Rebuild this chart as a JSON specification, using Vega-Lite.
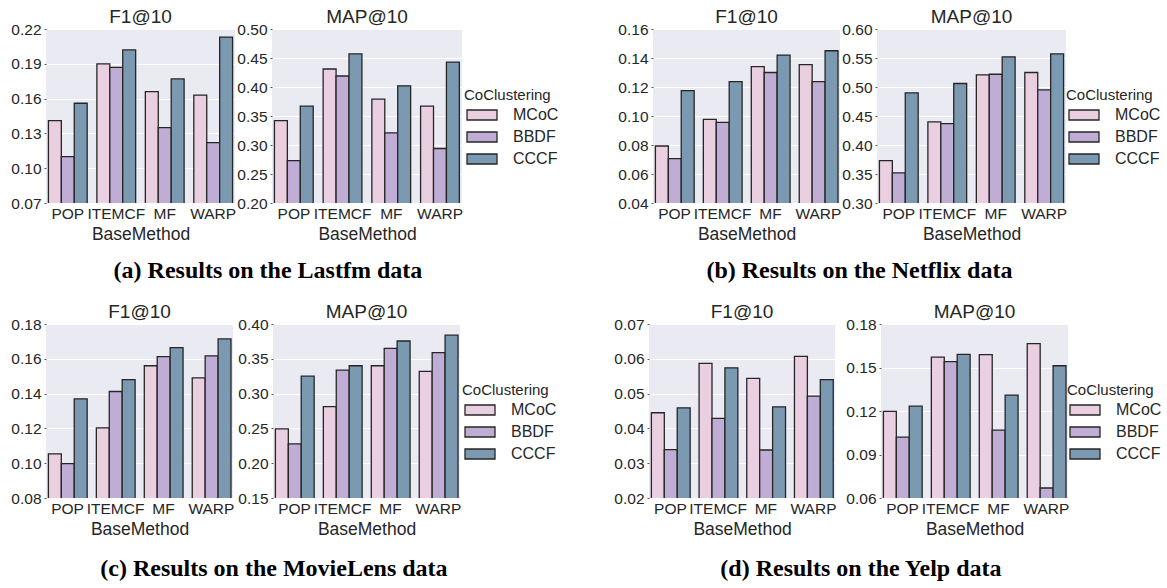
{
"$schema": "https://vega.github.io/schema/vega-lite/v6.json",
"padding": {"left": 10, "top": 8, "right": 0, "bottom": 0},
"background": "white",
"datasets": {"rows": [
{"d":"Lastfm","m":"F1@10","b":"POP","c":"MCoC","v":0.141},
{"d":"Lastfm","m":"F1@10","b":"POP","c":"BBDF","v":0.110},
{"d":"Lastfm","m":"F1@10","b":"POP","c":"CCCF","v":0.156},
{"d":"Lastfm","m":"F1@10","b":"ITEMCF","c":"MCoC","v":0.190},
{"d":"Lastfm","m":"F1@10","b":"ITEMCF","c":"BBDF","v":0.187},
{"d":"Lastfm","m":"F1@10","b":"ITEMCF","c":"CCCF","v":0.202},
{"d":"Lastfm","m":"F1@10","b":"MF","c":"MCoC","v":0.166},
{"d":"Lastfm","m":"F1@10","b":"MF","c":"BBDF","v":0.135},
{"d":"Lastfm","m":"F1@10","b":"MF","c":"CCCF","v":0.177},
{"d":"Lastfm","m":"F1@10","b":"WARP","c":"MCoC","v":0.163},
{"d":"Lastfm","m":"F1@10","b":"WARP","c":"BBDF","v":0.122},
{"d":"Lastfm","m":"F1@10","b":"WARP","c":"CCCF","v":0.213},
{"d":"Lastfm","m":"MAP@10","b":"POP","c":"MCoC","v":0.342},
{"d":"Lastfm","m":"MAP@10","b":"POP","c":"BBDF","v":0.273},
{"d":"Lastfm","m":"MAP@10","b":"POP","c":"CCCF","v":0.367},
{"d":"Lastfm","m":"MAP@10","b":"ITEMCF","c":"MCoC","v":0.431},
{"d":"Lastfm","m":"MAP@10","b":"ITEMCF","c":"BBDF","v":0.419},
{"d":"Lastfm","m":"MAP@10","b":"ITEMCF","c":"CCCF","v":0.457},
{"d":"Lastfm","m":"MAP@10","b":"MF","c":"MCoC","v":0.379},
{"d":"Lastfm","m":"MAP@10","b":"MF","c":"BBDF","v":0.321},
{"d":"Lastfm","m":"MAP@10","b":"MF","c":"CCCF","v":0.402},
{"d":"Lastfm","m":"MAP@10","b":"WARP","c":"MCoC","v":0.367},
{"d":"Lastfm","m":"MAP@10","b":"WARP","c":"BBDF","v":0.294},
{"d":"Lastfm","m":"MAP@10","b":"WARP","c":"CCCF","v":0.443},
{"d":"Netflix","m":"F1@10","b":"POP","c":"MCoC","v":0.0793},
{"d":"Netflix","m":"F1@10","b":"POP","c":"BBDF","v":0.0706},
{"d":"Netflix","m":"F1@10","b":"POP","c":"CCCF","v":0.1175},
{"d":"Netflix","m":"F1@10","b":"ITEMCF","c":"MCoC","v":0.0977},
{"d":"Netflix","m":"F1@10","b":"ITEMCF","c":"BBDF","v":0.0956},
{"d":"Netflix","m":"F1@10","b":"ITEMCF","c":"CCCF","v":0.1237},
{"d":"Netflix","m":"F1@10","b":"MF","c":"MCoC","v":0.134},
{"d":"Netflix","m":"F1@10","b":"MF","c":"BBDF","v":0.130},
{"d":"Netflix","m":"F1@10","b":"MF","c":"CCCF","v":0.142},
{"d":"Netflix","m":"F1@10","b":"WARP","c":"MCoC","v":0.1354},
{"d":"Netflix","m":"F1@10","b":"WARP","c":"BBDF","v":0.1237},
{"d":"Netflix","m":"F1@10","b":"WARP","c":"CCCF","v":0.145},
{"d":"Netflix","m":"MAP@10","b":"POP","c":"MCoC","v":0.373},
{"d":"Netflix","m":"MAP@10","b":"POP","c":"BBDF","v":0.352},
{"d":"Netflix","m":"MAP@10","b":"POP","c":"CCCF","v":0.490},
{"d":"Netflix","m":"MAP@10","b":"ITEMCF","c":"MCoC","v":0.440},
{"d":"Netflix","m":"MAP@10","b":"ITEMCF","c":"BBDF","v":0.437},
{"d":"Netflix","m":"MAP@10","b":"ITEMCF","c":"CCCF","v":0.506},
{"d":"Netflix","m":"MAP@10","b":"MF","c":"MCoC","v":0.521},
{"d":"Netflix","m":"MAP@10","b":"MF","c":"BBDF","v":0.522},
{"d":"Netflix","m":"MAP@10","b":"MF","c":"CCCF","v":0.552},
{"d":"Netflix","m":"MAP@10","b":"WARP","c":"MCoC","v":0.525},
{"d":"Netflix","m":"MAP@10","b":"WARP","c":"BBDF","v":0.495},
{"d":"Netflix","m":"MAP@10","b":"WARP","c":"CCCF","v":0.557},
{"d":"MovieLens","m":"F1@10","b":"POP","c":"MCoC","v":0.1054},
{"d":"MovieLens","m":"F1@10","b":"POP","c":"BBDF","v":0.0997},
{"d":"MovieLens","m":"F1@10","b":"POP","c":"CCCF","v":0.137},
{"d":"MovieLens","m":"F1@10","b":"ITEMCF","c":"MCoC","v":0.1203},
{"d":"MovieLens","m":"F1@10","b":"ITEMCF","c":"BBDF","v":0.1412},
{"d":"MovieLens","m":"F1@10","b":"ITEMCF","c":"CCCF","v":0.148},
{"d":"MovieLens","m":"F1@10","b":"MF","c":"MCoC","v":0.156},
{"d":"MovieLens","m":"F1@10","b":"MF","c":"BBDF","v":0.1612},
{"d":"MovieLens","m":"F1@10","b":"MF","c":"CCCF","v":0.1664},
{"d":"MovieLens","m":"F1@10","b":"WARP","c":"MCoC","v":0.149},
{"d":"MovieLens","m":"F1@10","b":"WARP","c":"BBDF","v":0.1617},
{"d":"MovieLens","m":"F1@10","b":"WARP","c":"CCCF","v":0.1714},
{"d":"MovieLens","m":"MAP@10","b":"POP","c":"MCoC","v":0.2494},
{"d":"MovieLens","m":"MAP@10","b":"POP","c":"BBDF","v":0.2279},
{"d":"MovieLens","m":"MAP@10","b":"POP","c":"CCCF","v":0.325},
{"d":"MovieLens","m":"MAP@10","b":"ITEMCF","c":"MCoC","v":0.2814},
{"d":"MovieLens","m":"MAP@10","b":"ITEMCF","c":"BBDF","v":0.3336},
{"d":"MovieLens","m":"MAP@10","b":"ITEMCF","c":"CCCF","v":0.340},
{"d":"MovieLens","m":"MAP@10","b":"MF","c":"MCoC","v":0.340},
{"d":"MovieLens","m":"MAP@10","b":"MF","c":"BBDF","v":0.365},
{"d":"MovieLens","m":"MAP@10","b":"MF","c":"CCCF","v":0.3756},
{"d":"MovieLens","m":"MAP@10","b":"WARP","c":"MCoC","v":0.332},
{"d":"MovieLens","m":"MAP@10","b":"WARP","c":"BBDF","v":0.3589},
{"d":"MovieLens","m":"MAP@10","b":"WARP","c":"CCCF","v":0.384},
{"d":"Yelp","m":"F1@10","b":"POP","c":"MCoC","v":0.0445},
{"d":"Yelp","m":"F1@10","b":"POP","c":"BBDF","v":0.0339},
{"d":"Yelp","m":"F1@10","b":"POP","c":"CCCF","v":0.0459},
{"d":"Yelp","m":"F1@10","b":"ITEMCF","c":"MCoC","v":0.0587},
{"d":"Yelp","m":"F1@10","b":"ITEMCF","c":"BBDF","v":0.0429},
{"d":"Yelp","m":"F1@10","b":"ITEMCF","c":"CCCF","v":0.0574},
{"d":"Yelp","m":"F1@10","b":"MF","c":"MCoC","v":0.0544},
{"d":"Yelp","m":"F1@10","b":"MF","c":"BBDF","v":0.0338},
{"d":"Yelp","m":"F1@10","b":"MF","c":"CCCF","v":0.0462},
{"d":"Yelp","m":"F1@10","b":"WARP","c":"MCoC","v":0.0607},
{"d":"Yelp","m":"F1@10","b":"WARP","c":"BBDF","v":0.0493},
{"d":"Yelp","m":"F1@10","b":"WARP","c":"CCCF","v":0.054},
{"d":"Yelp","m":"MAP@10","b":"POP","c":"MCoC","v":0.1197},
{"d":"Yelp","m":"MAP@10","b":"POP","c":"BBDF","v":0.102},
{"d":"Yelp","m":"MAP@10","b":"POP","c":"CCCF","v":0.1233},
{"d":"Yelp","m":"MAP@10","b":"ITEMCF","c":"MCoC","v":0.1571},
{"d":"Yelp","m":"MAP@10","b":"ITEMCF","c":"BBDF","v":0.1541},
{"d":"Yelp","m":"MAP@10","b":"ITEMCF","c":"CCCF","v":0.159},
{"d":"Yelp","m":"MAP@10","b":"MF","c":"MCoC","v":0.1589},
{"d":"Yelp","m":"MAP@10","b":"MF","c":"BBDF","v":0.1068},
{"d":"Yelp","m":"MAP@10","b":"MF","c":"CCCF","v":0.131},
{"d":"Yelp","m":"MAP@10","b":"WARP","c":"MCoC","v":0.1665},
{"d":"Yelp","m":"MAP@10","b":"WARP","c":"BBDF","v":0.0669},
{"d":"Yelp","m":"MAP@10","b":"WARP","c":"CCCF","v":0.1512}
]},
"data": {"name": "rows"},
"resolve": {"scale": {"color": "independent"}, "legend": {"color": "independent"}},
"spacing": 20,
"vconcat": [
{"resolve": {"scale": {"color": "independent"}, "legend": {"color": "independent"}},
 "spacing": 58,
 "hconcat": [
 {"resolve": {"scale": {"color": "independent"}, "legend": {"color": "independent"}},
  "spacing": 0,
  "title": {"text": "(a) Results on the Lastfm data", "orient": "bottom", "anchor": "middle", "dx": -17, "font": "Liberation Serif", "fontWeight": "bold", "fontSize": 24, "color": "black", "offset": 16},
  "hconcat": [
  {"width": 189, "height": 174, "title": "F1@10",
   "transform": [{"filter": "datum.d==='Lastfm' && datum.m==='F1@10'"}],
   "mark": {"type": "bar", "stroke": "#262626", "strokeWidth": 1.3, "clip": true},
   "encoding": {
    "x": {"field": "b", "type": "nominal", "sort": ["POP","ITEMCF","MF","WARP"], "title": "BaseMethod", "scale": {"paddingInner": 0.2, "paddingOuter": 0.05}},
    "xOffset": {"field": "c", "type": "nominal", "sort": ["MCoC","BBDF","CCCF"], "scale": {"paddingInner": 0, "paddingOuter": 0}},
    "y": {"field": "v", "type": "quantitative", "title": null, "scale": {"domain": [0.07,0.22], "zero": false, "nice": false}, "axis": {"values": [0.07,0.10,0.13,0.16,0.19,0.22], "format": ".2f"}},
    "color": {"field": "c", "type": "nominal", "scale": {"domain": ["MCoC","BBDF","CCCF"], "range": ["#eacfe0","#bfadd6","#7b99b1"]}, "legend": null}}},
  {"width": 190, "height": 174, "title": "MAP@10",
   "transform": [{"filter": "datum.d==='Lastfm' && datum.m==='MAP@10'"}],
   "mark": {"type": "bar", "stroke": "#262626", "strokeWidth": 1.3, "clip": true},
   "encoding": {
    "x": {"field": "b", "type": "nominal", "sort": ["POP","ITEMCF","MF","WARP"], "title": "BaseMethod", "scale": {"paddingInner": 0.2, "paddingOuter": 0.05}},
    "xOffset": {"field": "c", "type": "nominal", "sort": ["MCoC","BBDF","CCCF"], "scale": {"paddingInner": 0, "paddingOuter": 0}},
    "y": {"field": "v", "type": "quantitative", "title": null, "scale": {"domain": [0.2,0.5], "zero": false, "nice": false}, "axis": {"values": [0.2,0.25,0.3,0.35,0.4,0.45,0.5], "format": ".2f"}},
    "color": {"field": "c", "type": "nominal", "scale": {"domain": ["MCoC","BBDF","CCCF"], "range": ["#eacfe0","#bfadd6","#7b99b1"]}, "legend": {"title": "CoClustering", "orient": "none", "legendX": 192, "legendY": 59}}}}
  ]},
 {"resolve": {"scale": {"color": "independent"}, "legend": {"color": "independent"}},
  "spacing": 0,
  "title": {"text": "(b) Results on the Netflix data", "orient": "bottom", "anchor": "middle", "dx": -30, "font": "Liberation Serif", "fontWeight": "bold", "fontSize": 24, "color": "black", "offset": 16},
  "hconcat": [
  {"width": 187, "height": 174, "title": "F1@10",
   "transform": [{"filter": "datum.d==='Netflix' && datum.m==='F1@10'"}],
   "mark": {"type": "bar", "stroke": "#262626", "strokeWidth": 1.3, "clip": true},
   "encoding": {
    "x": {"field": "b", "type": "nominal", "sort": ["POP","ITEMCF","MF","WARP"], "title": "BaseMethod", "scale": {"paddingInner": 0.2, "paddingOuter": 0.05}},
    "xOffset": {"field": "c", "type": "nominal", "sort": ["MCoC","BBDF","CCCF"], "scale": {"paddingInner": 0, "paddingOuter": 0}},
    "y": {"field": "v", "type": "quantitative", "title": null, "scale": {"domain": [0.04,0.16], "zero": false, "nice": false}, "axis": {"values": [0.04,0.06,0.08,0.10,0.12,0.14,0.16], "format": ".2f"}},
    "color": {"field": "c", "type": "nominal", "scale": {"domain": ["MCoC","BBDF","CCCF"], "range": ["#eacfe0","#bfadd6","#7b99b1"]}, "legend": null}}},
  {"width": 189, "height": 174, "title": "MAP@10",
   "transform": [{"filter": "datum.d==='Netflix' && datum.m==='MAP@10'"}],
   "mark": {"type": "bar", "stroke": "#262626", "strokeWidth": 1.3, "clip": true},
   "encoding": {
    "x": {"field": "b", "type": "nominal", "sort": ["POP","ITEMCF","MF","WARP"], "title": "BaseMethod", "scale": {"paddingInner": 0.2, "paddingOuter": 0.05}},
    "xOffset": {"field": "c", "type": "nominal", "sort": ["MCoC","BBDF","CCCF"], "scale": {"paddingInner": 0, "paddingOuter": 0}},
    "y": {"field": "v", "type": "quantitative", "title": null, "scale": {"domain": [0.3,0.6], "zero": false, "nice": false}, "axis": {"values": [0.3,0.35,0.4,0.45,0.5,0.55,0.6], "format": ".2f"}},
    "color": {"field": "c", "type": "nominal", "scale": {"domain": ["MCoC","BBDF","CCCF"], "range": ["#eacfe0","#bfadd6","#7b99b1"]}, "legend": {"title": "CoClustering", "orient": "none", "legendX": 189, "legendY": 59}}}}
  ]}
 ]},
{"resolve": {"scale": {"color": "independent"}, "legend": {"color": "independent"}},
 "spacing": 56,
 "hconcat": [
 {"resolve": {"scale": {"color": "independent"}, "legend": {"color": "independent"}},
  "spacing": 3,
  "title": {"text": "(c) Results on the MovieLens data", "orient": "bottom", "anchor": "middle", "dx": -10, "font": "Liberation Serif", "fontWeight": "bold", "fontSize": 24, "color": "black", "offset": 19},
  "hconcat": [
  {"width": 187, "height": 174, "title": "F1@10",
   "transform": [{"filter": "datum.d==='MovieLens' && datum.m==='F1@10'"}],
   "mark": {"type": "bar", "stroke": "#262626", "strokeWidth": 1.3, "clip": true},
   "encoding": {
    "x": {"field": "b", "type": "nominal", "sort": ["POP","ITEMCF","MF","WARP"], "title": "BaseMethod", "scale": {"paddingInner": 0.2, "paddingOuter": 0.05}},
    "xOffset": {"field": "c", "type": "nominal", "sort": ["MCoC","BBDF","CCCF"], "scale": {"paddingInner": 0, "paddingOuter": 0}},
    "y": {"field": "v", "type": "quantitative", "title": null, "scale": {"domain": [0.08,0.18], "zero": false, "nice": false}, "axis": {"values": [0.08,0.10,0.12,0.14,0.16,0.18], "format": ".2f"}},
    "color": {"field": "c", "type": "nominal", "scale": {"domain": ["MCoC","BBDF","CCCF"], "range": ["#eacfe0","#bfadd6","#7b99b1"]}, "legend": null}}},
  {"width": 187, "height": 174, "title": "MAP@10",
   "transform": [{"filter": "datum.d==='MovieLens' && datum.m==='MAP@10'"}],
   "mark": {"type": "bar", "stroke": "#262626", "strokeWidth": 1.3, "clip": true},
   "encoding": {
    "x": {"field": "b", "type": "nominal", "sort": ["POP","ITEMCF","MF","WARP"], "title": "BaseMethod", "scale": {"paddingInner": 0.2, "paddingOuter": 0.05}},
    "xOffset": {"field": "c", "type": "nominal", "sort": ["MCoC","BBDF","CCCF"], "scale": {"paddingInner": 0, "paddingOuter": 0}},
    "y": {"field": "v", "type": "quantitative", "title": null, "scale": {"domain": [0.15,0.4], "zero": false, "nice": false}, "axis": {"values": [0.15,0.2,0.25,0.3,0.35,0.4], "format": ".2f"}},
    "color": {"field": "c", "type": "nominal", "scale": {"domain": ["MCoC","BBDF","CCCF"], "range": ["#eacfe0","#bfadd6","#7b99b1"]}, "legend": {"title": "CoClustering", "orient": "none", "legendX": 189, "legendY": 59}}}}
  ]},
 {"resolve": {"scale": {"color": "independent"}, "legend": {"color": "independent"}},
  "spacing": 8,
  "title": {"text": "(d) Results on the Yelp data", "orient": "bottom", "anchor": "middle", "dx": -27, "font": "Liberation Serif", "fontWeight": "bold", "fontSize": 24, "color": "black", "offset": 19},
  "hconcat": [
  {"width": 186, "height": 174, "title": "F1@10",
   "transform": [{"filter": "datum.d==='Yelp' && datum.m==='F1@10'"}],
   "mark": {"type": "bar", "stroke": "#262626", "strokeWidth": 1.3, "clip": true},
   "encoding": {
    "x": {"field": "b", "type": "nominal", "sort": ["POP","ITEMCF","MF","WARP"], "title": "BaseMethod", "scale": {"paddingInner": 0.2, "paddingOuter": 0.05}},
    "xOffset": {"field": "c", "type": "nominal", "sort": ["MCoC","BBDF","CCCF"], "scale": {"paddingInner": 0, "paddingOuter": 0}},
    "y": {"field": "v", "type": "quantitative", "title": null, "scale": {"domain": [0.02,0.07], "zero": false, "nice": false}, "axis": {"values": [0.02,0.03,0.04,0.05,0.06,0.07], "format": ".2f"}},
    "color": {"field": "c", "type": "nominal", "scale": {"domain": ["MCoC","BBDF","CCCF"], "range": ["#eacfe0","#bfadd6","#7b99b1"]}, "legend": null}}},
  {"width": 187, "height": 174, "title": "MAP@10",
   "transform": [{"filter": "datum.d==='Yelp' && datum.m==='MAP@10'"}],
   "mark": {"type": "bar", "stroke": "#262626", "strokeWidth": 1.3, "clip": true},
   "encoding": {
    "x": {"field": "b", "type": "nominal", "sort": ["POP","ITEMCF","MF","WARP"], "title": "BaseMethod", "scale": {"paddingInner": 0.2, "paddingOuter": 0.05}},
    "xOffset": {"field": "c", "type": "nominal", "sort": ["MCoC","BBDF","CCCF"], "scale": {"paddingInner": 0, "paddingOuter": 0}},
    "y": {"field": "v", "type": "quantitative", "title": null, "scale": {"domain": [0.06,0.18], "zero": false, "nice": false}, "axis": {"values": [0.06,0.09,0.12,0.15,0.18], "format": ".2f"}},
    "color": {"field": "c", "type": "nominal", "scale": {"domain": ["MCoC","BBDF","CCCF"], "range": ["#eacfe0","#bfadd6","#7b99b1"]}, "legend": {"title": "CoClustering", "orient": "none", "legendX": 186, "legendY": 59}}}}
  ]}
 ]}
],
"config": {
 "font": "Liberation Sans",
 "view": {"stroke": null, "fill": "#eaeaf2"},
 "axis": {"domain": false, "gridColor": "#ffffff", "gridWidth": 1.2, "labelFont": "Liberation Sans", "labelFontSize": 15.5, "labelColor": "#262626", "titleFont": "Liberation Sans", "titleFontSize": 17.5, "titleFontWeight": "normal", "titleColor": "#262626", "tickColor": "#555555"},
 "axisX": {"grid": false, "ticks": false, "labelPadding": 3, "titlePadding": 4, "labelAngle": 0},
 "axisY": {"tickSize": 2, "labelPadding": 3},
 "title": {"font": "Liberation Sans", "fontSize": 19, "fontWeight": "normal", "color": "#262626", "offset": -5},
 "legend": {"padding": 0, "symbolType": "M-1,-1L5,-1L5,1L-1,1Z", "symbolSize": 100, "symbolStrokeColor": "#262626", "symbolStrokeWidth": 1.3, "symbolOpacity": 1, "labelOffset": 33, "rowPadding": 6, "titlePadding": 4, "titleFont": "Liberation Sans", "titleFontSize": 15, "titleFontWeight": "normal", "titleColor": "#262626", "labelFont": "Liberation Sans", "labelFontSize": 16, "labelColor": "#262626"}
}
}
